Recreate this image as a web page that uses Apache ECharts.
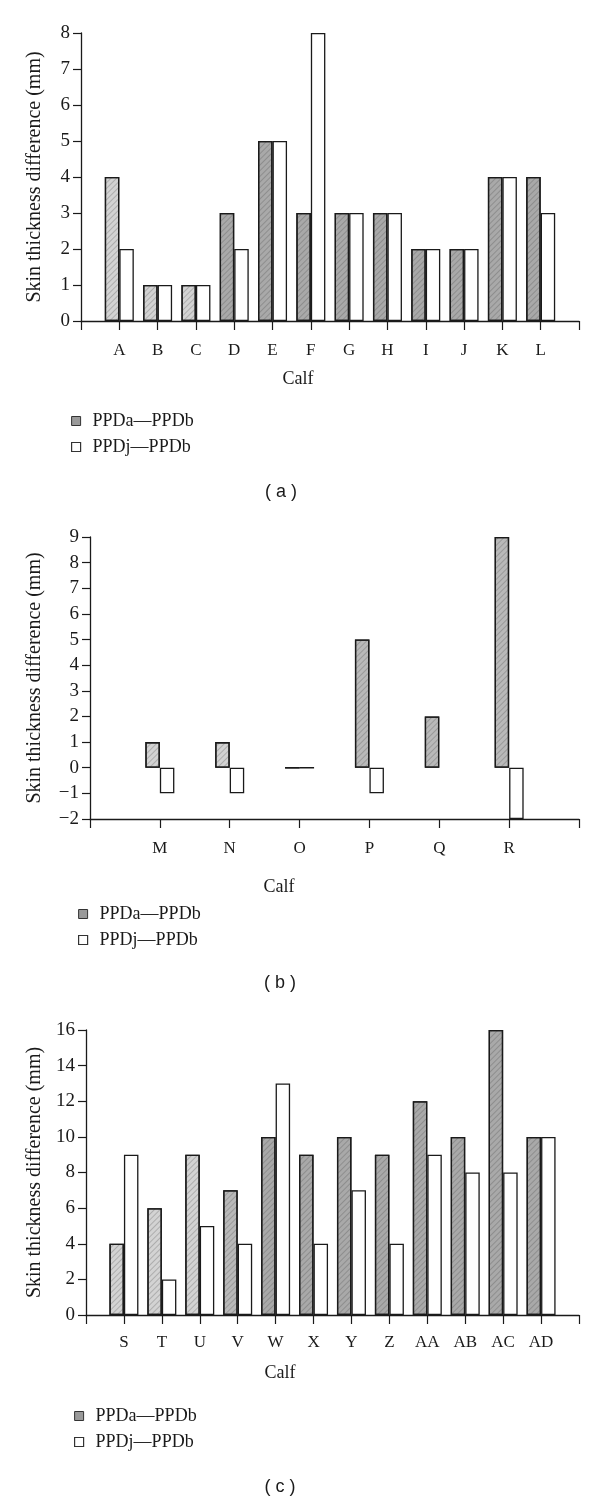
<!DOCTYPE html>
<html>
<head>
<meta charset="utf-8">
<script src="https://cdn.jsdelivr.net/npm/echarts@6/dist/echarts.min.js"></script>
<style>
html,body{margin:0;padding:0;background:#fff;}
#chart{width:600px;height:1502px;}
</style>
</head>
<body>
<div id="chart"></div>
<script>
// ---- data ----
const seriesNames = ['PPDa\u2014PPDb', 'PPDj\u2014PPDb'];

const catsA = ['A','B','C','D','E','F','G','H','I','J','K','L'];
const ppdaA = [4,1,1,3,5,3,3,3,2,2,4,4];
const ppdjA = [2,1,1,2,5,8,3,3,2,2,4,3];

const catsB = ['M','N','O','P','Q','R'];
const ppdaB = [1,1,0,5,2,9];
const ppdjB = [-1,-1,0,-1,null,-2];

const catsC = ['S','T','U','V','W','X','Y','Z','AA','AB','AC','AD'];
const ppdaC = [4,6,9,7,10,9,10,9,12,10,16,10];
const ppdjC = [9,2,5,4,13,4,7,4,9,8,8,10];

// ---- styles (kept apart from data) ----
const LIGHT = '#d3d3d3', MED = '#b9b9b9', DARK = '#a9a9a9';
const shadeA = [LIGHT,LIGHT,LIGHT,DARK,DARK,DARK,DARK,DARK,DARK,DARK,DARK,DARK];
const shadeB = [LIGHT,LIGHT,MED,MED,MED,MED];
const shadeC = [LIGHT,LIGHT,LIGHT,MED,DARK,DARK,DARK,DARK,DARK,DARK,DARK,DARK];

const SERIF = "'Liberation Serif','DejaVu Serif',serif";
const SANS = "'Liberation Sans','DejaVu Sans',sans-serif";
const INK = '#1a1a1a';

const decal = {
  symbol: 'rect', symbolSize: 1,
  dashArrayX: [1, 0], dashArrayY: [1, 2.5],
  rotation: -Math.PI / 4,
  color: 'rgba(60,60,60,0.25)'
};

function padCats(arr) { return [''].concat(arr, ['']); }
function pad(arr) { return [null].concat(arr, [null]); }
function greyData(vals, shades) {
  return pad(vals.map((v, i) => v == null ? null : { value: v, itemStyle: { color: shades[i] } }));
}

const panels = [
  { cats: catsA, a: ppdaA, j: ppdjA, sh: shadeA, grid: { left: 81, top: 33, right: 21, height: 288 },
    min: 0, max: 8, interval: 1, nameGap: 36, labelMargin: 21 },
  { cats: catsB, a: ppdaB, j: ppdjB, sh: shadeB, grid: { left: 90, top: 537, right: 21, height: 282 },
    min: -2, max: 9, interval: 1, nameGap: 45, labelMargin: 21 },
  { cats: catsC, a: ppdaC, j: ppdjC, sh: shadeC, grid: { left: 86, top: 1030, right: 21, height: 285 },
    min: 0, max: 16, interval: 2, nameGap: 41, labelMargin: 19 }
];

const grids = [], xAxes = [], yAxes = [], series = [];
panels.forEach((p, k) => {
  grids.push(p.grid);
  xAxes.push({
    type: 'category', gridIndex: k, data: padCats(p.cats), boundaryGap: false,
    axisLine: { onZero: false, lineStyle: { color: INK, width: 1.4 } },
    axisTick: { show: true, length: 9, lineStyle: { color: INK, width: 1.2 } },
    axisLabel: { interval: 0, margin: p.labelMargin, fontFamily: SERIF, fontSize: 17, color: INK },
    splitLine: { show: false }
  });
  yAxes.push({
    type: 'value', gridIndex: k, min: p.min, max: p.max, interval: p.interval,
    name: 'Skin thickness difference (mm)', nameLocation: 'middle', nameRotate: 90, nameGap: p.nameGap,
    nameTextStyle: { fontFamily: SERIF, fontSize: 20, color: INK },
    axisLine: { show: true, lineStyle: { color: INK, width: 1.3 } },
    axisTick: { show: true, inside: false, length: 8, lineStyle: { color: INK, width: 1.2 } },
    axisLabel: { margin: 11, fontFamily: SERIF, fontSize: 19, color: INK,
      formatter: v => String(v).replace('-', '\u2212') },
    splitLine: { show: false }
  });
  series.push({
    name: seriesNames[0], type: 'bar', xAxisIndex: k, yAxisIndex: k,
    data: greyData(p.a, p.sh), barWidth: 14.5, barGap: '0%',
    itemStyle: { color: DARK, borderColor: INK, borderWidth: 1.3, decal: decal },
    emphasis: { disabled: true }
  });
  series.push({
    name: seriesNames[1], type: 'bar', xAxisIndex: k, yAxisIndex: k,
    data: pad(p.j), barWidth: 14.5, barGap: '0%',
    itemStyle: { color: '#ffffff', borderColor: INK, borderWidth: 1.3 },
    emphasis: { disabled: true }
  });
});

function legendAt(left, top) {
  return {
    orient: 'vertical', left: left, top: top, padding: 0, itemWidth: 9, itemHeight: 9, itemGap: 8,
    icon: 'rect', selectedMode: false,
    textStyle: { fontFamily: SERIF, fontSize: 18, color: INK, padding: [0, 0, 0, 7] },
    data: [
      { name: seriesNames[0], itemStyle: { color: '#9a9a9a', borderColor: '#333', borderWidth: 1, decal: 'none' } },
      { name: seriesNames[1], itemStyle: { color: '#ffffff', borderColor: '#333', borderWidth: 1.2 } }
    ]
  };
}

function txt(text, x, y, font, size) {
  return { type: 'text', x: x, y: y, silent: true,
    style: { text: text, align: 'center', verticalAlign: 'middle', fontFamily: font, fontSize: size, fill: INK } };
}

const chart = echarts.init(document.getElementById('chart'), null, { renderer: 'canvas' });
chart.setOption({
  animation: false,
  backgroundColor: '#ffffff',
  grid: grids, xAxis: xAxes, yAxis: yAxes, series: series,
  legend: [legendAt(71, 412), legendAt(78, 905), legendAt(74, 1407)],
  graphic: [
    txt('Calf', 298, 379, SERIF, 18),
    txt('Calf', 279, 887, SERIF, 18),
    txt('Calf', 280, 1373, SERIF, 18),
    txt('( a )', 281, 492, SANS, 18),
    txt('( b )', 280, 983, SANS, 18),
    txt('( c )', 280, 1487, SANS, 18)
  ]
});
</script>
</body>
</html>
